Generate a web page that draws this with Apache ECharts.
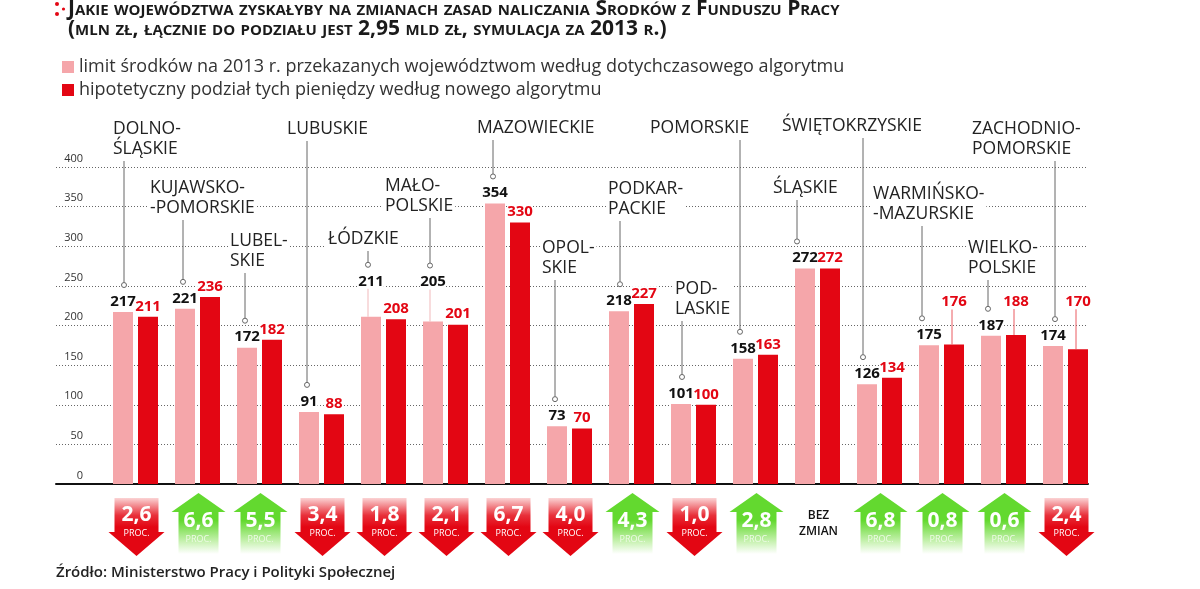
<!DOCTYPE html>
<html><head><meta charset="utf-8">
<script src="https://cdn.jsdelivr.net/npm/echarts@6/dist/echarts.min.js"></script>
<style>html,body{margin:0;padding:0;background:#fff}#c{width:1200px;height:589px}</style>
</head><body><div id="c"></div>
<script>
// ---- data ----
const regions = ['DOLNO-\nŚLĄSKIE', 'KUJAWSKO-\n-POMORSKIE', 'LUBEL-\nSKIE', 'LUBUSKIE', 'ŁÓDZKIE', 'MAŁO-\nPOLSKIE', 'MAZOWIECKIE', 'OPOL-\nSKIE', 'PODKAR-\nPACKIE', 'POD-\nLASKIE', 'POMORSKIE', 'ŚLĄSKIE', 'ŚWIĘTOKRZYSKIE', 'WARMIŃSKO-\n-MAZURSKIE', 'WIELKO-\nPOLSKIE', 'ZACHODNIO-\nPOMORSKIE'];
const limitOld = [217, 221, 172, 91, 211, 205, 354, 73, 218, 101, 158, 272, 126, 175, 187, 174];
const splitNew = [211, 236, 182, 88, 208, 201, 330, 70, 227, 100, 163, 272, 134, 176, 188, 170];
const changePct = [-2.6, 6.6, 5.5, -3.4, -1.8, -2.1, -6.7, -4.0, 4.3, -1.0, 2.8, 0, 6.8, 0.8, 0.6, -2.4];
const yMax = 400, yStep = 50;
const seriesNames = ['limit środków na 2013 r. przekazanych województwom według dotychczasowego algorytmu', 'hipotetyczny podział tych pieniędzy według nowego algorytmu'];
const titleText = 'Jakie województwa zyskałyby na zmianach zasad naliczania Środków z Funduszu Pracy\n(mln zł, łącznie do podziału jest 2,95 mld zł, symulacja za 2013 r.)';
const sourceText = 'Źródło: Ministerstwo Pracy i Polityki Społecznej';
const noChangeText = 'BEZ\nZMIAN';
const pctText = 'PROC.';

// ---- layout (pixels) ----
const nameTop = [123, 182, 235, 123, 233, 180, 122, 242, 183, 283, 122, 182, 120, 188, 242, 123];
const nameDx = [-22.5, -47.5, -29.5, -34.5, -55.5, -60.5, -30.5, -27.5, -23.5, -18.5, -105.5, -44.5, -97.5, -68.5, -35.5, -93.5];
const leaderDx = [-11.5, -14.5, -14.5, -14.5, -15.5, -15.5, -14.5, -14.5, -11.5, -11.5, -15.5, -20.5, -16.5, -19.5, -15.5, -10.5];
const oldLift = [0, 0, 0, 0, 25, 29, 0, 0, 0, 0, 0, 0, 0, 0, 0, 0];
const newLift = [0, 0, 0, 0, 0, 0, 0, 0, 0, 0, 0, 0, 0, 32, 23, 37];

const PINK = '#f5a6aa', RED = '#e30613', GREEN = '#63d92f';
const FONT = '"Open Sans", sans-serif';

const chart = echarts.init(document.getElementById('c'));

function fmt(v) { return Math.abs(v).toFixed(1).replace('.', ','); }

const annotData = regions.map((r, i) => [i, limitOld[i], splitNew[i]]);
const arrowData = changePct.map((v, i) => [i, v]);

function renderAnnot(params, api) {
  const i = api.value(0);
  const c = api.coord([i, 0])[0];
  const top = api.coord([i, api.value(1)])[1];
  const topNew = api.coord([i, api.value(2)])[1];
  const nLines = regions[i].split('\n').length;
  const nb = nameTop[i] + (nLines - 1) * 20 + 18;
  const lx = c + leaderDx[i];
  const dotY = top - oldLift[i] - 27;
  const ch = [
    { type: 'line', shape: { x1: lx, y1: nb, x2: lx, y2: dotY - 2.5 }, style: { stroke: '#666', lineWidth: 1 } },
    { type: 'circle', shape: { cx: lx, cy: dotY, r: 2.5 }, style: { fill: '#fff', stroke: '#666', lineWidth: 1 } },
    { type: 'text', x: c + nameDx[i] - 2, y: nameTop[i] - 4, z2: 5,
      style: { text: regions[i], font: '17.5px "Open Sans", sans-serif', fill: '#222', lineHeight: 20,
        backgroundColor: '#fff', padding: [0, 2], align: 'left', verticalAlign: 'top' } }
  ];
  if (oldLift[i]) ch.push({ type: 'line', shape: { x1: lx, y1: top - oldLift[i] - 3, x2: lx, y2: top }, style: { stroke: '#f1b9bb', lineWidth: 1 } });
  if (newLift[i]) {
    const rx = c + 10.5;
    ch.push({ type: 'line', shape: { x1: rx, y1: topNew - newLift[i] - 3, x2: rx, y2: topNew }, style: { stroke: '#ea5a60', lineWidth: 1 } });
  }
  return { type: 'group', children: ch };
}

function renderArrow(params, api) {
  const i = api.value(0);
  const v = api.value(1);
  const b = api.coord([i, 0]);
  const c = b[0] + 1, y0 = b[1];
  if (v === 0) {
    return { type: 'text', x: c, y: y0 + 40, style: { text: noChangeText, font: '600 12px "Open Sans", sans-serif', fill: '#111', lineHeight: 16, align: 'center', verticalAlign: 'middle' } };
  }
  if (v < 0) {
    return { type: 'group', children: [
      { type: 'polygon', shape: { points: [[c - 22, y0 + 14], [c + 22, y0 + 14], [c + 22, y0 + 48], [c + 28, y0 + 48], [c, y0 + 72], [c - 28, y0 + 48], [c - 22, y0 + 48]] },
        style: { fill: new echarts.graphic.LinearGradient(0, 0, 0, 1, [{ offset: 0, color: '#fbd3d4' }, { offset: 0.3, color: '#e8303a' }, { offset: 0.5, color: RED }, { offset: 1, color: RED }]) } },
      { type: 'text', x: c, y: y0 + 31, style: { text: fmt(v), font: 'bold 21px "Open Sans", sans-serif', fill: '#fff', align: 'center', verticalAlign: 'middle' } },
      { type: 'text', x: c, y: y0 + 49, style: { text: pctText, font: '9px "Open Sans", sans-serif', fill: '#fff', align: 'center', verticalAlign: 'middle' } }
    ] };
  }
  return { type: 'group', children: [
    { type: 'polygon', shape: { points: [[c, y0 + 9], [c + 27, y0 + 28], [c + 20, y0 + 28], [c + 20, y0 + 70], [c - 20, y0 + 70], [c - 20, y0 + 28], [c - 27, y0 + 28]] },
      style: { fill: new echarts.graphic.LinearGradient(0, 0, 0, 1, [{ offset: 0, color: GREEN }, { offset: 0.45, color: GREEN }, { offset: 0.8, color: '#c9f2b3' }, { offset: 1, color: '#ffffff' }]) } },
    { type: 'text', x: c, y: y0 + 37, style: { text: fmt(v), font: 'bold 21px "Open Sans", sans-serif', fill: '#fff', align: 'center', verticalAlign: 'middle' } },
    { type: 'text', x: c, y: y0 + 55, style: { text: pctText, font: '9px "Open Sans", sans-serif', fill: '#eefbe6', align: 'center', verticalAlign: 'middle' } }
  ] };
}

const valueLabel = (color) => ({ show: true, position: 'top', distance: 3, fontFamily: FONT, fontWeight: 'bold', fontSize: 15, lineHeight: 15, color: color, backgroundColor: '#fff', padding: 0 });

const option = {
  animation: false,
  backgroundColor: '#fff',
  title: { text: titleText, left: 68, top: -1, padding: 0,
    textStyle: { fontFamily: FONT, fontWeight: 'bold', fontStyle: 'small-caps', fontSize: 21, lineHeight: 20, color: '#1a1a1a' } },
  legend: { left: 62, top: 58, orient: 'vertical', itemWidth: 12, itemHeight: 12, itemGap: 5, icon: 'rect', selectedMode: false, padding: 0,
    textStyle: { fontFamily: FONT, fontSize: 18, color: '#333' }, data: seriesNames },
  graphic: [
    { type: 'circle', shape: { cx: 57, cy: 4, r: 2 }, style: { fill: RED } },
    { type: 'circle', shape: { cx: 57, cy: 14, r: 2 }, style: { fill: RED } },
    { type: 'circle', shape: { cx: 63.5, cy: 9, r: 1.6 }, style: { fill: RED } },
    { type: 'text', left: 56, top: 565, style: { text: sourceText, font: '600 15px "Open Sans", sans-serif', fill: '#222' } }
  ],
  grid: [
    { left: 56, right: 112, top: 167, bottom: 105 },
    { left: 104.5, right: 103.5, top: 167, bottom: 105 }
  ],
  xAxis: [
    { gridIndex: 0, type: 'value', min: 0, max: 1, axisLine: { show: true, lineStyle: { color: '#111', width: 2 } }, axisTick: { show: false }, axisLabel: { show: false }, splitLine: { show: false } },
    { gridIndex: 1, type: 'category', data: regions, show: false }
  ],
  yAxis: [
    { gridIndex: 0, type: 'value', min: 0, max: yMax, interval: yStep, axisLine: { show: false }, axisTick: { show: false },
      splitLine: { lineStyle: { type: [1, 2], color: '#666', width: 1 } },
      axisLabel: { inside: true, align: 'right', margin: 27, verticalAlign: 'bottom', padding: [0, 0, 3, 0], fontFamily: FONT, fontSize: 11, color: '#333' } },
    { gridIndex: 1, type: 'value', min: 0, max: yMax, interval: yStep, show: false }
  ],
  series: [
    { name: seriesNames[0], type: 'bar', z: 3, xAxisIndex: 1, yAxisIndex: 1, barWidth: 20, barGap: '25%', itemStyle: { color: PINK },
      label: valueLabel('#111'),
      data: limitOld.map((v, i) => oldLift[i] ? { value: v, label: { offset: [0, -oldLift[i]] } } : v) },
    { name: seriesNames[1], type: 'bar', z: 2, xAxisIndex: 1, yAxisIndex: 1, barWidth: 20, itemStyle: { color: RED },
      label: valueLabel(RED),
      data: splitNew.map((v, i) => newLift[i] ? { value: v, label: { offset: [0, -newLift[i]] } } : v) },
    { type: 'custom', xAxisIndex: 1, yAxisIndex: 1, renderItem: renderAnnot, data: annotData, z: 5, silent: true, encode: { x: 0, y: 1 } },
    { type: 'custom', xAxisIndex: 1, yAxisIndex: 1, renderItem: renderArrow, data: arrowData, z: 5, silent: true, encode: { x: 0, y: 1 } }
  ]
};
chart.setOption(option);
</script>
</body></html>
